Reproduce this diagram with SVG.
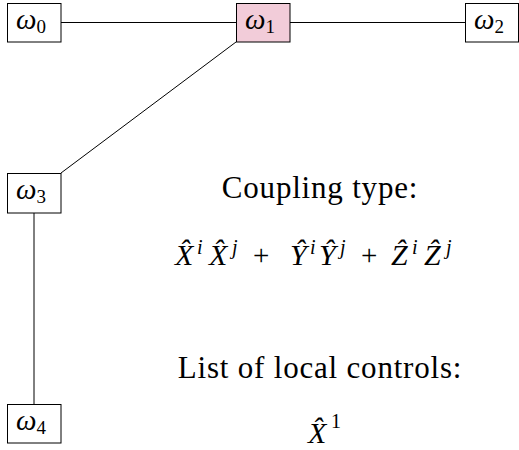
<svg xmlns="http://www.w3.org/2000/svg" width="519" height="450" viewBox="0 0 519 450">
<style>
.box{fill:#ffffff;stroke:#000;stroke-width:1}
.hl{fill:#f2ccd9}
.w{font-family:Liberation Serif, serif;font-style:italic;font-size:29px}
.sub{font-style:normal;font-size:19px}
.lb{font-family:Liberation Serif, serif;font-size:31px;letter-spacing:0.8px}
.pl{font-style:normal;font-size:29px}
.m{font-family:Liberation Serif, serif;font-style:italic;font-size:30px}
.sup{font-style:italic;font-size:20px}
.supr{font-style:normal;font-size:20px}
.ln{stroke:#000;stroke-width:1;fill:none}
</style>
<rect width="519" height="450" fill="#fff"/>
<g id="connectors">
<line class="ln" x1="61" y1="22.5" x2="236" y2="22.5"/>
<line class="ln" x1="290" y1="22.5" x2="465.5" y2="22.5"/>
<line class="ln" x1="236" y1="42" x2="61" y2="173"/>
<line class="ln" x1="34" y1="213" x2="34" y2="404"/>
</g>
<g id="w0">
<rect class="box" x="7.5" y="3.5" width="53.5" height="38.5"/>
<text class="w" font-family="Liberation Serif, serif" x="16" y="29">ω<tspan class="sub" dy="4">0</tspan></text>
</g>
<g id="w1">
<rect class="box hl" x="236.5" y="3.5" width="53.5" height="38.5"/>
<text class="w" font-family="Liberation Serif, serif" x="245" y="29">ω<tspan class="sub" dy="4">1</tspan></text>
</g>
<g id="w2">
<rect class="box" x="465.5" y="3.5" width="53" height="38.5"/>
<text class="w" font-family="Liberation Serif, serif" x="474" y="29">ω<tspan class="sub" dy="4">2</tspan></text>
</g>
<g id="w3">
<rect class="box" x="7.5" y="173.5" width="53.5" height="39.5"/>
<text class="w" font-family="Liberation Serif, serif" x="16" y="199">ω<tspan class="sub" dy="4">3</tspan></text>
</g>
<g id="w4">
<rect class="box" x="7.5" y="404.5" width="53.5" height="38.5"/>
<text class="w" font-family="Liberation Serif, serif" x="16" y="430">ω<tspan class="sub" dy="4">4</tspan></text>
</g>
<g id="coupling">
<text class="lb" font-family="Liberation Serif, serif" x="320" y="198" text-anchor="middle">Coupling type:</text>
<text class="m" font-family="Liberation Serif, serif" y="265"><tspan x="175">X̂</tspan><tspan class="sup" x="197" y="254">i</tspan><tspan x="209" y="265">X̂</tspan><tspan class="sup" x="232" y="254">j</tspan><tspan class="pl" x="253" y="265">+</tspan><tspan x="290">Ŷ</tspan><tspan class="sup" x="310" y="254">i</tspan><tspan x="319" y="265">Ŷ</tspan><tspan class="sup" x="340" y="254">j</tspan><tspan class="pl" x="361" y="265">+</tspan><tspan x="391">Ẑ</tspan><tspan class="sup" x="412" y="254">i</tspan><tspan x="424" y="265">Ẑ</tspan><tspan class="sup" x="446" y="254">j</tspan></text>
</g>
<g id="controls">
<text class="lb" font-family="Liberation Serif, serif" x="320" y="378" text-anchor="middle">List of local controls:</text>
<text class="m" font-family="Liberation Serif, serif" x="308" y="443">X̂<tspan class="supr" x="331" y="428">1</tspan></text>
</g>
</svg>
